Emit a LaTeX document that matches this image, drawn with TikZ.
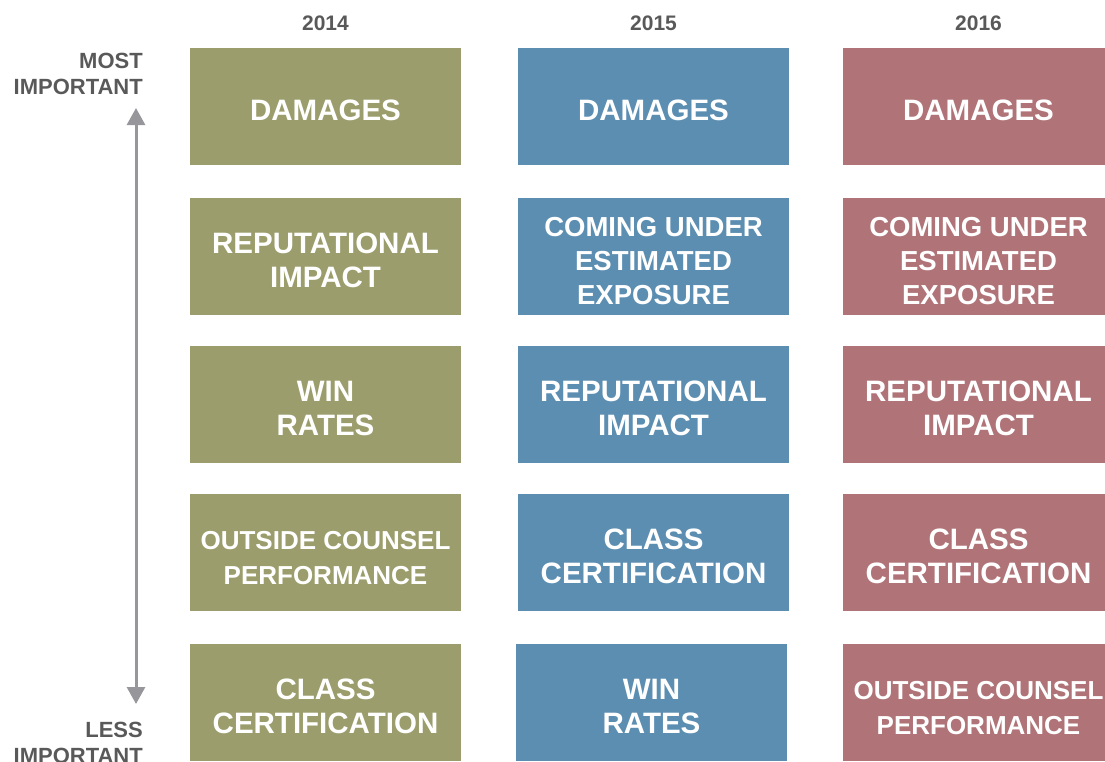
\documentclass[tikz,border=0pt]{standalone}
\usepackage{fontspec}
\setmainfont{Liberation Sans}
\usetikzlibrary{arrows.meta}
\definecolor{olv}{RGB}{156,157,108}
\definecolor{blu}{RGB}{92,142,178}
\definecolor{rse}{RGB}{176,116,120}
\definecolor{txtgray}{RGB}{89,89,89}
\definecolor{axgray}{RGB}{150,150,155}
\newcommand{\cellstrut}{\rule{0pt}{29pt}}

\begin{document}
\begin{tikzpicture}[x=1pt,y=-1pt,
  cell/.style={rectangle,minimum width=271pt,minimum height=117pt,inner sep=0pt,
    text=white,align=center,font=\bfseries\fontsize{29.5}{34}\selectfont},
  olv cell/.style={cell,fill=olv},
  blu cell/.style={cell,fill=blu},
  rse cell/.style={cell,fill=rse},
  small/.style={font=\bfseries\fontsize{26}{35}\selectfont},
  mid/.style={font=\bfseries\fontsize{27.5}{34}\selectfont},
  year/.style={anchor=base,text=txtgray,font=\bfseries\fontsize{21}{25}\selectfont},
  rank/.style={anchor=east,align=right,text=txtgray,inner sep=0pt,font=\bfseries\fontsize{22}{26}\selectfont}]

  \useasboundingbox (0,0) rectangle (1105,761);

  % years
  \node[year] (y14) at (325.5,30) {2014};
  \node[year] (y15) at (653.5,30) {2015};
  \node[year] (y16) at (978.5,30) {2016};

  % 2014
  \node[olv cell] (a1) at (325.5,106.5) {\cellstrut DAMAGES};
  \node[olv cell] (a2) at (325.5,256.5) {\cellstrut REPUTATIONAL\\IMPACT};
  \node[olv cell] (a3) at (325.5,404.5) {\cellstrut WIN\\RATES};
  \node[olv cell,small] (a4) at (325.5,552.5) {\cellstrut OUTSIDE COUNSEL\\PERFORMANCE};
  \node[olv cell] (a5) at (325.5,702.5) {\cellstrut CLASS\\CERTIFICATION};

  % 2015
  \node[blu cell] (b1) at (653.5,106.5) {\cellstrut DAMAGES};
  \node[blu cell,mid] (b2) at (653.5,256.5) {\cellstrut COMING UNDER\\ESTIMATED\\EXPOSURE};
  \node[blu cell] (b3) at (653.5,404.5) {\cellstrut REPUTATIONAL\\IMPACT};
  \node[blu cell] (b4) at (653.5,552.5) {\cellstrut CLASS\\CERTIFICATION};
  \node[blu cell] (b5) at (651.5,702.5) {\cellstrut WIN\\RATES};

  % 2016
  \node[rse cell] (c1) at (978.5,106.5) {\cellstrut DAMAGES};
  \node[rse cell,mid] (c2) at (978.5,256.5) {\cellstrut COMING UNDER\\ESTIMATED\\EXPOSURE};
  \node[rse cell] (c3) at (978.5,404.5) {\cellstrut REPUTATIONAL\\IMPACT};
  \node[rse cell] (c4) at (978.5,552.5) {\cellstrut CLASS\\CERTIFICATION};
  \node[rse cell,small] (c5) at (978.5,702.5) {\cellstrut OUTSIDE COUNSEL\\PERFORMANCE};

  % scale
  \node[rank] (most) at (143,73.5) {MOST\\IMPORTANT};
  \node[rank] (less) at (143,743) {LESS\\IMPORTANT};
  \coordinate (top) at (136,108);
  \coordinate (bot) at (136,704);
  \draw[{Triangle[width=18pt,length=17pt]}-{Triangle[width=18pt,length=17pt]},
    line width=3pt,draw=axgray] (top) -- (bot);
\end{tikzpicture}
\end{document}
